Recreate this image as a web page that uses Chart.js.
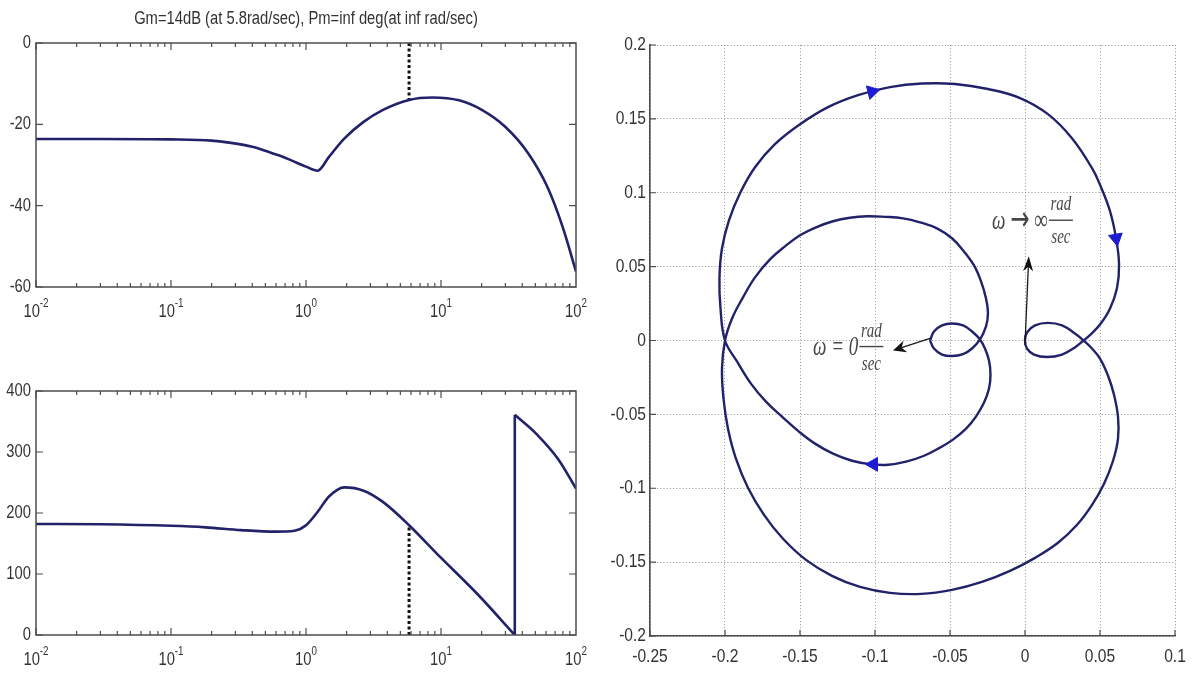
<!DOCTYPE html>
<html>
<head>
<meta charset="utf-8">
<title>Bode and Nyquist plots</title>
<script src="https://cdn.jsdelivr.net/npm/chart.js@4.4.1/dist/chart.umd.min.js"></script>
<style>
  html, body { margin: 0; padding: 0; background: #fff; }
  #page { position: relative; width: 1192px; height: 677px; overflow: hidden; background: #fff; }
  #page canvas { position: absolute; }
</style>
</head>
<body>
<div id="page">
  <canvas id="mag" width="600" height="320" style="left:0;top:0;width:600px;height:320px"></canvas>
  <canvas id="phase" width="600" height="357" style="left:0;top:320px;width:600px;height:357px"></canvas>
  <canvas id="nyquist" width="592" height="677" style="left:600px;top:0;width:592px;height:677px"></canvas>
</div>
<script>
// ---- Bode magnitude (rad/sec, dB) ----
const magW  = [0.01, 0.03, 0.1, 0.2, 0.27, 0.4, 0.52, 0.65, 0.77, 1.0, 1.22, 1.48, 1.92, 2.67, 3.69, 5.8, 8.6, 13.6, 20.2, 29.9, 44.2, 61.2, 79.4, 100];
const magDb = [-23.6, -23.6, -23.7, -24.0, -24.5, -25.5, -26.7, -27.8, -28.8, -30.4, -31.4, -28.0, -23.5, -19.4, -16.5, -14.0, -13.4, -14.1, -16.5, -20.6, -27.1, -35.3, -45.1, -56.2];

// ---- Bode phase (rad/sec, deg); wraps from 0 to 360 near 35 rad/sec ----
const phaseW   = [0.01, 0.03, 0.1, 0.18, 0.33, 0.59, 0.82, 1.0, 1.22, 1.48, 1.92, 2.67, 3.69, 5.8, 9.85, 18.9, 35.2];
const phaseDeg = [182, 181.5, 179, 176.5, 172, 169.5, 171, 180, 202, 227, 242, 236.6, 218.6, 180, 128, 65.6, 0];
const wrapW    = [35.2, 50.4, 74.5, 100];
const wrapDeg  = [361, 330.6, 287, 240];

// gain margin: 14 dB at 5.8 rad/sec
const gmW = 5.8, gmDb = -14, gmPhase = 180;
const titleText = 'Gm=14dB (at 5.8rad/sec), Pm=inf deg(at inf rad/sec)';

const decadeTicks = [0.01, 0.1, 1, 10, 100];
const decadeExp   = ['-2', '-1', '0', '1', '2'];
const magTicks    = [-60, -40, -20, 0];
const phaseTicks  = [0, 100, 200, 300, 400];

// ---- Nyquist path: w = 0 -> +inf, then -inf -> 0 ----
const nyqRe = [
  // small loop at w = 0, upper half
  -0.0633, -0.0607, -0.0553, -0.0487, -0.0413, -0.0353, -0.0300,
  // inner arc, lower side
  -0.0267, -0.0240, -0.0230, -0.0240, -0.0273, -0.0327, -0.0393, -0.0480, -0.0567, -0.0673, -0.0793, -0.0913,
  -0.1033, -0.1153, -0.1280, -0.1400, -0.1507, -0.1613, -0.1727, -0.1827, -0.1920, -0.2000,
  // outer arc, upper side
  -0.2030, -0.2037, -0.2020, -0.1973, -0.1900, -0.1800, -0.1667, -0.1500, -0.1313, -0.1113, -0.0900, -0.0687,
  -0.0467, -0.0247, -0.0033, 0.0153, 0.0313, 0.0447, 0.0507, 0.0567, 0.0607, 0.0627, 0.0613, 0.0567, 0.0500, 0.0433, 0.0390,
  // small loop at w -> inf, lower half
  0.0333, 0.0247, 0.0147, 0.0060, 0.0013, 0.0000,
  // small loop at w -> inf, upper half
  0.0013, 0.0067, 0.0153, 0.0247, 0.0333, 0.0390,
  // outer arc, lower side
  0.0440, 0.0500, 0.0553, 0.0593, 0.0620, 0.0620, 0.0587, 0.0527, 0.0447, 0.0347, 0.0220, 0.0067, -0.0100, -0.0287,
  -0.0487, -0.0693, -0.0900, -0.1100, -0.1287, -0.1460, -0.1613, -0.1740, -0.1847, -0.1927, -0.1980, -0.2010, -0.2020, -0.2000,
  // inner arc, upper side
  -0.1953, -0.1880, -0.1800, -0.1700, -0.1600, -0.1500, -0.1393, -0.1280, -0.1167, -0.1053, -0.0933, -0.0813, -0.0700,
  -0.0587, -0.0487, -0.0407, -0.0340, -0.0293, -0.0260, -0.0247, -0.0260, -0.0300,
  // small loop at w = 0, lower half
  -0.0353, -0.0413, -0.0487, -0.0553, -0.0607, -0.0633
];
const nyqIm = [
  0.0000, 0.0061, 0.0102, 0.0115, 0.0102, 0.0061, 0.0007,
  -0.0054, -0.0136, -0.0231, -0.0325, -0.0420, -0.0515, -0.0597, -0.0671, -0.0725, -0.0780, -0.0820, -0.0841,
  -0.0837, -0.0814, -0.0766, -0.0698, -0.0617, -0.0522, -0.0414, -0.0292, -0.0142, 0.0000,
  0.0217, 0.0420, 0.0624, 0.0814, 0.0997, 0.1173, 0.1329, 0.1464, 0.1580, 0.1661, 0.1715, 0.1739,
  0.1736, 0.1702, 0.1641, 0.1532, 0.1369, 0.1166, 0.1037, 0.0875, 0.0692, 0.0515, 0.0353, 0.0217, 0.0108, 0.0037, 0.0000,
  -0.0047, -0.0095, -0.0112, -0.0095, -0.0054, 0.0000,
  0.0054, 0.0102, 0.0119, 0.0102, 0.0047, 0.0000,
  -0.0047, -0.0122, -0.0237, -0.0366, -0.0515, -0.0664, -0.0814, -0.0969, -0.1112, -0.1247, -0.1369, -0.1471, -0.1559, -0.1634,
  -0.1688, -0.1715, -0.1708, -0.1668, -0.1593, -0.1485, -0.1342, -0.1180, -0.0997, -0.0800, -0.0597, -0.0393, -0.0190, 0.0000,
  0.0149, 0.0292, 0.0427, 0.0549, 0.0637, 0.0712, 0.0766, 0.0807, 0.0831, 0.0841, 0.0837, 0.0827, 0.0800,
  0.0759, 0.0692, 0.0603, 0.0508, 0.0400, 0.0285, 0.0183, 0.0095, 0.0007,
  -0.0054, -0.0092, -0.0105, -0.0095, -0.0054, 0.0000
];
// direction markers along the path
const dirRe = [-0.102, 0.0607, -0.101];
const dirIm = [0.1684, 0.0692, -0.0838];

const reTicks  = [-0.25, -0.2, -0.15, -0.1, -0.05, 0, 0.05, 0.1];
const reLabels = ['-0.25', '-0.2', '-0.15', '-0.1', '-0.05', '0', '0.05', '0.1'];
const imTicks  = [-0.2, -0.15, -0.1, -0.05, 0, 0.05, 0.1, 0.15, 0.2];
const imLabels = ['-0.2', '-0.15', '-0.1', '-0.05', '0', '0.05', '0.1', '0.15', '0.2'];

// ---- styles ----
const FAMILY = "'Liberation Sans', Arial, sans-serif";
const SERIF = '"Liberation Serif", "DejaVu Serif", serif';
const SQUEEZE = 0.82;
const INK = '#333333';
const FRAME = '#4d4d4d';
const NAVY = '#22226a';
const BLUE = '#1c1cd0';

const pts = (xs, ys) => xs.map((x, i) => ({ x: x, y: ys[i] }));

// narrow text: the plot fonts are condensed, so squeeze horizontally
function narrowText(ctx, text, x, y, size, align) {
  ctx.save();
  ctx.font = size + 'px ' + FAMILY;
  const w = ctx.measureText(text).width * SQUEEZE;
  const left = align === 'right' ? x - w : align === 'center' ? x - w / 2 : x;
  ctx.translate(left, y);
  ctx.scale(SQUEEZE, 1);
  ctx.textAlign = 'left';
  ctx.textBaseline = 'middle';
  ctx.fillText(text, 0, 0);
  ctx.restore();
  return w;
}
function textWidth(ctx, text, size) {
  ctx.save();
  ctx.font = size + 'px ' + FAMILY;
  const w = ctx.measureText(text).width * SQUEEZE;
  ctx.restore();
  return w;
}

// box, inward ticks and tick labels like the MATLAB axes
const bodeFrame = {
  id: 'bodeFrame',
  afterDraw(chart, args, opts) {
    const { ctx, chartArea: a, scales: { x, y } } = chart;
    ctx.save();
    ctx.strokeStyle = FRAME;
    ctx.lineWidth = 1.5;
    ctx.strokeRect(a.left, a.top, a.width, a.height);
    ctx.lineWidth = 1.2;
    ctx.beginPath();
    for (let d = -2; d < 2; d++) {
      for (let m = 1; m <= 9; m++) {
        const px = x.getPixelForValue(m * Math.pow(10, d));
        const len = m === 1 ? 7 : 4;
        ctx.moveTo(px, a.bottom); ctx.lineTo(px, a.bottom - len);
        ctx.moveTo(px, a.top); ctx.lineTo(px, a.top + len);
      }
    }
    y.ticks.forEach(t => {
      const py = y.getPixelForValue(t.value);
      ctx.moveTo(a.left, py); ctx.lineTo(a.left + 7, py);
      ctx.moveTo(a.right, py); ctx.lineTo(a.right - 7, py);
    });
    ctx.stroke();

    ctx.fillStyle = INK;
    y.ticks.forEach(t => {
      narrowText(ctx, String(t.value), a.left - 5, y.getPixelForValue(t.value), 18, 'right');
    });
    const ly = a.bottom + 25;
    x.ticks.forEach((t, i) => {
      const wb = textWidth(ctx, '10', 18), we = textWidth(ctx, decadeExp[i], 12);
      const left = x.getPixelForValue(t.value) - (wb + we) / 2;
      narrowText(ctx, '10', left, ly, 18, 'left');
      narrowText(ctx, decadeExp[i], left + wb, ly - 8, 12, 'left');
    });
    if (opts.title) {
      narrowText(ctx, opts.title, (a.left + a.right) / 2, 19, 18, 'center');
    }
    ctx.restore();
  }
};

function bodeOptions(yMin, yMax, yTicks, padTop, xHeight, title) {
  return {
    responsive: false,
    animation: false,
    devicePixelRatio: 1,
    layout: { padding: { top: padTop, right: 24, left: 0, bottom: 0 } },
    plugins: { legend: { display: false }, tooltip: { enabled: false }, bodeFrame: { title: title } },
    elements: { point: { radius: 0 } },
    scales: {
      x: {
        type: 'logarithmic',
        min: 0.01, max: 100,
        afterBuildTicks: s => { s.ticks = decadeTicks.map(v => ({ value: v })); },
        afterFit: s => { s.height = xHeight; },
        grid: { display: false, drawTicks: false },
        border: { display: false },
        ticks: { display: false }
      },
      y: {
        min: yMin, max: yMax,
        afterBuildTicks: s => { s.ticks = yTicks.map(v => ({ value: v })); },
        afterFit: s => { s.width = 36; },
        grid: { display: false, drawTicks: false },
        border: { display: false },
        ticks: { display: false }
      }
    }
  };
}

const curve = (data) => ({
  data: data, borderColor: NAVY, borderWidth: 2.6,
  cubicInterpolationMode: 'monotone', pointRadius: 0, fill: false
});
const marker = (data) => ({
  data: data, borderColor: '#111111', borderWidth: 3,
  borderDash: [3, 2.5], pointRadius: 0, fill: false, tension: 0
});

new Chart('mag', {
  type: 'line',
  data: {
    datasets: [
      curve(pts(magW, magDb)),
      marker([{ x: gmW, y: 0 }, { x: gmW, y: gmDb }])
    ]
  },
  options: bodeOptions(-60, 0, magTicks, 43, 33, titleText),
  plugins: [bodeFrame]
});

new Chart('phase', {
  type: 'line',
  data: {
    datasets: [
      curve(pts(phaseW, phaseDeg)),
      { data: [{ x: phaseW[phaseW.length - 1], y: phaseDeg[phaseDeg.length - 1] }, { x: wrapW[0], y: wrapDeg[0] }],
        borderColor: NAVY, borderWidth: 2.6, pointRadius: 0, tension: 0, fill: false },
      curve(pts(wrapW, wrapDeg)),
      marker([{ x: gmW, y: 0 }, { x: gmW, y: gmPhase }])
    ]
  },
  options: bodeOptions(0, 400, phaseTicks, 71, 42, null),
  plugins: [bodeFrame]
});

// ---- Nyquist annotations ----
function pointer(ctx, x0, y0, x1, y1, len, half) {
  const a = Math.atan2(y1 - y0, x1 - x0);
  const c = Math.cos(a), s = Math.sin(a);
  ctx.beginPath();
  ctx.moveTo(x0, y0);
  ctx.lineTo(x1 - c * len * 0.7, y1 - s * len * 0.7);
  ctx.stroke();
  ctx.beginPath();
  ctx.moveTo(x1, y1);
  ctx.lineTo(x1 - c * len - s * half, y1 - s * len + c * half);
  ctx.lineTo(x1 - c * len * 0.7, y1 - s * len * 0.7);
  ctx.lineTo(x1 - c * len + s * half, y1 - s * len - c * half);
  ctx.closePath();
  ctx.fill();
}

// lead text made of runs [text, font], squeezed, then a rad/sec fraction
function fracNote(ctx, runs, left, barY) {
  const sq = 0.68;
  let cx = left;
  runs.forEach(([t, font]) => {
    ctx.save();
    ctx.font = font;
    ctx.textBaseline = 'middle';
    const w = ctx.measureText(t).width * sq;
    ctx.translate(cx, barY + 1);
    ctx.scale(sq, 1);
    ctx.fillText(t, 0, 0);
    ctx.restore();
    cx += w;
  });

  const fx = cx + 1;
  const bw = 24;
  ctx.save();
  ctx.fillRect(fx, barY - 0.7, bw, 1.4);
  ctx.textBaseline = 'middle';
  ctx.textAlign = 'center';
  ctx.font = 'italic 20px ' + SERIF;
  [['rad', -15], ['sec', 18]].forEach(([t, dy]) => {
    ctx.save();
    ctx.translate(fx + bw / 2, barY + dy);
    ctx.scale(0.75, 1);
    ctx.fillText(t, 0, 0);
    ctx.restore();
  });
  ctx.restore();
}

const nyqMarks = {
  id: 'nyqMarks',
  afterDraw(chart) {
    const { ctx, chartArea: a, scales: { x, y } } = chart;
    const px = v => x.getPixelForValue(v), py = v => y.getPixelForValue(v);
    ctx.save();
    // inward ticks on the left and bottom axes
    ctx.strokeStyle = FRAME;
    ctx.lineWidth = 1.2;
    ctx.beginPath();
    x.ticks.forEach(t => { const p = px(t.value); ctx.moveTo(p, a.bottom); ctx.lineTo(p, a.bottom - 6); });
    y.ticks.forEach(t => { const p = py(t.value); ctx.moveTo(a.left, p); ctx.lineTo(a.left + 6, p); });
    ctx.stroke();

    ctx.fillStyle = INK;
    x.ticks.forEach((t, i) => narrowText(ctx, reLabels[i], px(t.value), a.bottom + 21, 19, 'center'));
    y.ticks.forEach((t, i) => narrowText(ctx, imLabels[i], a.left - 4, py(t.value), 19, 'right'));

    // pointers to the w = 0 and w -> inf ends
    ctx.strokeStyle = '#1a1a1a';
    ctx.fillStyle = '#111111';
    ctx.lineWidth = 1.3;
    pointer(ctx, px(-0.0633), py(0.0014), px(-0.088), py(-0.0068), 13, 6);
    pointer(ctx, px(0.0), py(-0.003), px(0.0025), py(0.057), 15, 5);

    const it = 'italic 28px ' + SERIF;
    ctx.fillStyle = '#474747';
    fracNote(ctx, [['ω = 0', it]], px(-0.1413), py(-0.0041));
    fracNote(ctx, [['ω ', it], ['→', '34px "DejaVu Sans", sans-serif'], [' ∞', '28px ' + SERIF]], px(-0.022), py(0.0814));
    ctx.restore();
  }
};

new Chart('nyquist', {
  type: 'scatter',
  data: {
    datasets: [
      {
        data: pts(dirRe, dirIm),
        pointStyle: 'triangle', pointRadius: 8, pointRotation: [76, 170, 270],
        pointBackgroundColor: BLUE, pointBorderColor: BLUE, pointBorderWidth: 1,
        showLine: false
      },
      {
        data: pts(nyqRe, nyqIm),
        showLine: true, tension: 0.4, pointRadius: 0,
        borderColor: NAVY, borderWidth: 2.4, fill: false
      }
    ]
  },
  options: {
    responsive: false,
    animation: false,
    devicePixelRatio: 1,
    layout: { padding: { top: 45, right: 17, left: 0, bottom: 0 } },
    plugins: { legend: { display: false }, tooltip: { enabled: false } },
    scales: {
      x: {
        type: 'linear', min: -0.25, max: 0.1,
        afterBuildTicks: s => { s.ticks = reTicks.map(v => ({ value: v })); },
        afterFit: s => { s.height = 41; },
        grid: { color: 'rgba(110,110,110,0.75)', lineWidth: 1, drawTicks: false },
        border: { display: true, color: FRAME, width: 1.6, dash: [1, 2.2] },
        ticks: { display: false }
      },
      y: {
        type: 'linear', min: -0.2, max: 0.2,
        afterBuildTicks: s => { s.ticks = imTicks.map(v => ({ value: v })); },
        afterFit: s => { s.width = 50; },
        grid: { color: 'rgba(110,110,110,0.75)', lineWidth: 1, drawTicks: false },
        border: { display: true, color: FRAME, width: 1.6, dash: [1, 2.2] },
        ticks: { display: false }
      }
    }
  },
  plugins: [nyqMarks]
});
</script>
</body>
</html>
